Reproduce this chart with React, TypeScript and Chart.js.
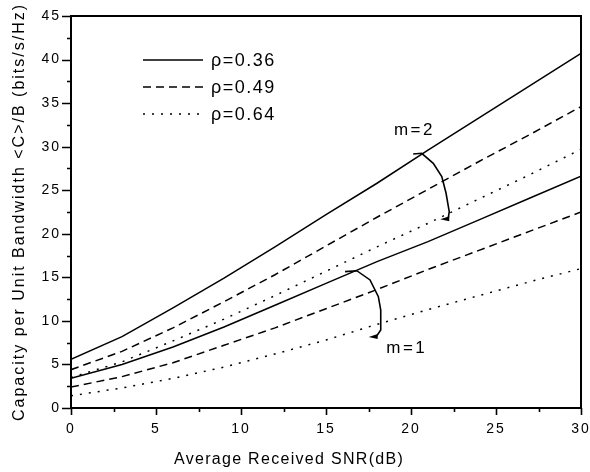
import React, { useEffect, useRef } from "react";
import { Chart, registerables } from "chart.js";

Chart.register(...registerables);

// ---- data ----
const SNR_DB = [0, 3, 6, 9, 12, 15, 18, 21, 24, 27, 30];
const RHO_LABELS = ["ρ=0.36", "ρ=0.49", "ρ=0.64"];
const M2_RHO036 = [5.6, 8.2, 11.5, 14.9, 18.5, 22.2, 25.8, 29.6, 33.3, 37.0, 40.7];
const M2_RHO049 = [4.4, 6.5, 9.2, 12.2, 15.3, 18.6, 21.9, 25.1, 28.3, 31.4, 34.6];
const M2_RHO064 = [3.5, 5.3, 7.7, 10.2, 12.9, 15.7, 18.5, 21.2, 24.0, 26.8, 29.7];
const M1_RHO036 = [3.4, 5.0, 7.0, 9.3, 11.8, 14.3, 16.8, 19.1, 21.6, 24.1, 26.6];
const M1_RHO049 = [2.4, 3.6, 5.2, 7.2, 9.2, 11.4, 13.6, 15.9, 18.1, 20.3, 22.5];
const M1_RHO064 = [1.4, 2.3, 3.4, 4.7, 6.2, 7.8, 9.6, 11.3, 12.9, 14.5, 16.0];
const X_TICKS = [0, 5, 10, 15, 20, 25, 30];
const Y_TICKS = [0, 5, 10, 15, 20, 25, 30, 35, 40, 45];
const X_TITLE = "Average Received SNR(dB)";
const Y_TITLE = "Capacity per Unit Bandwidth <C>/B (bits/s/Hz)";

// annotation arcs (in data units)
const M2_LABEL = { text: "m=2", x: 20.2, y: 31.9 };
const M1_LABEL = { text: "m=1", x: 19.75, y: 6.8 };
const M2_ARC = [
  [20.13, 29.16], [20.63, 29.24], [21.31, 28.09], [21.81, 26.56],
  [22.06, 24.68], [22.25, 22.54], [22.19, 21.78],
];
const M1_ARC = [
  [16.12, 15.65], [16.81, 15.76], [17.59, 14.7], [18.08, 12.78],
  [18.22, 11.25], [18.22, 8.96], [17.98, 8.27],
];

const DASHES = [[], [8, 5], [2, 7]];
const FONT = "'Liberation Sans', Arial, sans-serif";

const toXY = (arr: number[]) => arr.map((v, i) => ({ x: SNR_DB[i], y: v }));

const seriesList = [
  { label: RHO_LABELS[0], data: M2_RHO036, dash: DASHES[0] },
  { label: RHO_LABELS[1], data: M2_RHO049, dash: DASHES[1] },
  { label: RHO_LABELS[2], data: M2_RHO064, dash: DASHES[2] },
  { label: RHO_LABELS[0] + " m=1", data: M1_RHO036, dash: DASHES[0] },
  { label: RHO_LABELS[1] + " m=1", data: M1_RHO049, dash: DASHES[1] },
  { label: RHO_LABELS[2] + " m=1", data: M1_RHO064, dash: DASHES[2] },
];

const decorPlugin = {
  id: "decor",
  beforeDraw(chart: any) {
    chart.ctx.letterSpacing = "2px";
  },
  afterDraw(chart: any) {
    const ctx = chart.ctx as CanvasRenderingContext2D;
    const { left, right, top, bottom } = chart.chartArea;
    const xs = chart.scales.x;
    const ys = chart.scales.y;
    ctx.save();
    ctx.strokeStyle = "#000";
    ctx.fillStyle = "#000";
    ctx.setLineDash([]);
    // frame
    ctx.lineWidth = 2;
    ctx.strokeRect(left, top, right - left, bottom - top);
    // ticks
    ctx.lineWidth = 1.6;
    ctx.beginPath();
    for (let v = 0; v <= 30.001; v += 2.5) {
      const px = Math.round(xs.getPixelForValue(v)) + 0.5;
      const len = Math.abs(v % 5) < 1e-6 ? 7 : 4;
      ctx.moveTo(px, bottom);
      ctx.lineTo(px, bottom + len);
    }
    for (let v = 0; v <= 45.001; v += 2.5) {
      const py = Math.round(ys.getPixelForValue(v)) + 0.5;
      const len = Math.abs(v % 5) < 1e-6 ? 9 : 4;
      ctx.moveTo(left, py);
      ctx.lineTo(left - len, py);
    }
    ctx.stroke();

    // x title
    ctx.letterSpacing = "1.3px";
    ctx.font = `16px ${FONT}`;
    ctx.textAlign = "center";
    ctx.textBaseline = "middle";
    ctx.fillText(X_TITLE, chart.width / 2 - 6, 460);

    // legend
    const lx0 = left + 72;
    const lx1 = left + 132;
    const rows = [top + 44, top + 71, top + 98];
    ctx.font = `18px ${FONT}`;
    ctx.letterSpacing = "1.5px";
    ctx.textAlign = "left";
    for (let i = 0; i < 3; i++) {
      const ds = chart.data.datasets[i];
      ctx.setLineDash(ds.borderDash || []);
      ctx.lineWidth = 1.5;
      ctx.beginPath();
      ctx.moveTo(lx0, rows[i]);
      ctx.lineTo(lx1, rows[i]);
      ctx.stroke();
      ctx.setLineDash([]);
      ctx.fillText(ds.label, left + 140, rows[i] + 1);
    }

    // annotations
    const drawArc = (pts: number[][]) => {
      const p = pts.map(([x, y]) => [xs.getPixelForValue(x), ys.getPixelForValue(y)]);
      ctx.lineWidth = 1.6;
      ctx.setLineDash([]);
      ctx.beginPath();
      ctx.moveTo(p[0][0], p[0][1]);
      for (let i = 1; i < p.length; i++) ctx.lineTo(p[i][0], p[i][1]);
      ctx.stroke();
      const e = p[p.length - 1];
      ctx.beginPath();
      ctx.moveTo(e[0] - 8, e[1] + 1);
      ctx.lineTo(e[0] + 1, e[1] - 2);
      ctx.lineTo(e[0] + 1, e[1] + 3);
      ctx.closePath();
      ctx.fill();
    };
    drawArc(M2_ARC);
    drawArc(M1_ARC);
    ctx.font = `17px ${FONT}`;
    ctx.letterSpacing = "2.5px";
    ctx.textAlign = "center";
    for (const lab of [M2_LABEL, M1_LABEL]) {
      ctx.fillText(lab.text, xs.getPixelForValue(lab.x), ys.getPixelForValue(lab.y));
    }
    ctx.restore();
  },
};

export default function App() {
  const ref = useRef<HTMLCanvasElement | null>(null);
  useEffect(() => {
    if (!ref.current) return;
    const chart = new Chart(ref.current, {
      type: "line",
      data: {
        datasets: seriesList.map((s) => ({
          label: s.label,
          data: toXY(s.data),
          borderColor: "#000",
          borderWidth: 1.5,
          borderDash: s.dash,
          pointRadius: 0,
          fill: false,
          tension: 0,
        })),
      },
      options: {
        animation: false,
        responsive: false,
        events: [],
        layout: { padding: { top: 16, right: 9, left: 0, bottom: 0 } },
        plugins: { legend: { display: false }, tooltip: { enabled: false } },
        scales: {
          x: {
            type: "linear",
            min: 0,
            max: 30,
            afterBuildTicks: (s: any) => {
              s.ticks = X_TICKS.map((v) => ({ value: v }));
            },
            ticks: {
              color: "#000",
              font: { family: FONT, size: 14 },
              padding: 13,
              maxRotation: 0,
              autoSkip: false,
            },
            grid: { display: false, drawTicks: false },
            border: { display: false },
            afterFit: (s: any) => {
              s.height = 64;
              s.paddingLeft = 0;
              s.paddingRight = 0;
            },
          },
          y: {
            type: "linear",
            min: 0,
            max: 45,
            afterBuildTicks: (s: any) => {
              s.ticks = Y_TICKS.map((v) => ({ value: v }));
            },
            ticks: {
              color: "#000",
              font: { family: FONT, size: 14 },
              padding: 10,
              autoSkip: false,
            },
            grid: { display: false, drawTicks: false },
            border: { display: false },
            title: {
              display: true,
              text: Y_TITLE,
              color: "#000",
              font: { family: FONT, size: 16 },
              padding: { top: 10, bottom: 0 },
            },
            afterFit: (s: any) => {
              s.width = 71;
              s.paddingTop = 0;
              s.paddingBottom = 0;
            },
          },
        },
      },
      plugins: [decorPlugin],
    });
    return () => chart.destroy();
  }, []);
  return (
    <div style={{ position: "absolute", left: 0, top: 0, width: 590, height: 472, background: "#fff" }}>
      <canvas ref={ref} width={590} height={472} style={{ display: "block" }} />
    </div>
  );
}
